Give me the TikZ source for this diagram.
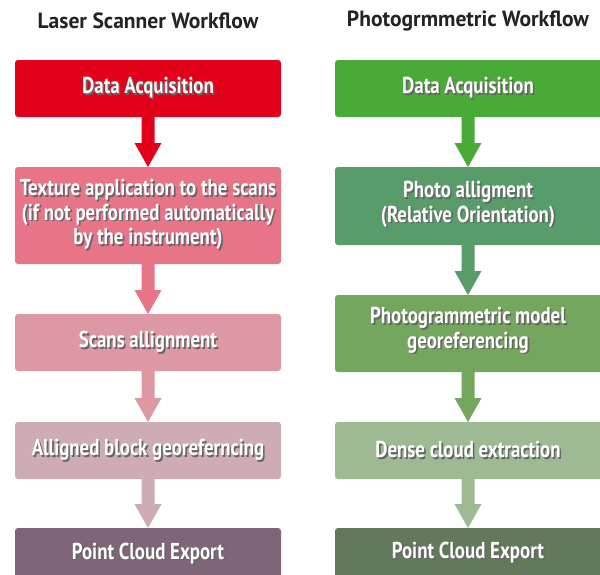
\documentclass[tikz,border=0pt]{standalone}
\usepackage{fontspec}
\usetikzlibrary{calc}
\newfontfamily\boxfont[FakeStretch=0.82]{PT Sans}
\newfontfamily\titlefont[FakeStretch=0.98]{PT Sans}
\definecolor{lA}{RGB}{226,0,26}
\definecolor{lB}{RGB}{232,116,136}
\definecolor{lC}{RGB}{222,152,164}
\definecolor{lD}{RGB}{205,172,180}
\definecolor{lE}{RGB}{126,101,120}
\definecolor{rA}{RGB}{74,170,56}
\definecolor{rB}{RGB}{88,156,106}
\definecolor{rC}{RGB}{116,166,94}
\definecolor{rD}{RGB}{158,186,146}
\definecolor{rE}{RGB}{96,122,90}
\definecolor{ttl}{RGB}{35,35,35}
% drop shadow of the white box texts, as in the reference
\newcommand\shd[1]{\leavevmode\rlap{\raisebox{-1.6pt}{\kern1.6pt\textcolor{black!60}{#1}}}#1}
\tikzset{
  stepbox/.style={rectangle, rounded corners=3pt, inner sep=0pt, outer sep=0pt,
    minimum width=266pt, text=white, align=center,
    font=\boxfont\bfseries\fontsize{23}{24.5}\selectfont},
  ttlnode/.style={inner sep=0pt, text=ttl, font=\titlefont\bfseries\fontsize{22}{24}\selectfont},
}
\newcommand\flowarrow[3]{%
  \fill[#3] ($(#1.south)+(-6.5,0)$) -- ($(#1.south)+(6.5,0)$) -- ($(#2.north)+(6.5,-24)$)
    -- ($(#2.north)+(13.5,-24)$) -- (#2.north) -- ($(#2.north)+(-13.5,-24)$)
    -- ($(#2.north)+(-6.5,-24)$) -- cycle;}
\newcommand\flowarrowc[3]{%
  \fill[#3] ($(#1)+(-6.5,0)$) -- ($(#1)+(6.5,0)$) -- ($(#2)+(6.5,-24)$)
    -- ($(#2)+(13.5,-24)$) -- (#2) -- ($(#2)+(-13.5,-24)$)
    -- ($(#2)+(-6.5,-24)$) -- cycle;}
\begin{document}
\begin{tikzpicture}[x=1pt,y=-1pt]
\useasboundingbox (0,0) rectangle (600,574);
\fill[white] (0,0) rectangle (600,574);
\node[ttlnode] (t1) at (148,21) {Laser Scanner Workflow};
\node[ttlnode] (t2) at (468,21) {Photogrmmetric Workflow};
% left column
\node[stepbox, fill=lA, minimum height=57pt] (l1) at (148,88.5) {\shd{Data Acquisition}};
\node[stepbox, fill=lB, minimum height=97pt] (l2) at (148,215.5) {\shd{Texture application to the scans}\\\shd{(if not performed automatically}\\\shd{by the instrument)}};
\node[stepbox, fill=lC, minimum height=57pt] (l3) at (148,342.5) {\shd{Scans allignment}};
\node[stepbox, fill=lD, minimum height=57pt] (l4) at (148,450.5) {\shd{Alligned block georeferncing}};
\node[stepbox, fill=lE, minimum height=52pt] (l5) at (148,554) {\shd{Point Cloud Export}};
% right column boxes (run past the right edge)
\node[stepbox, fill=rA, minimum height=57pt, minimum width=272pt] (r1) at (471,88.5) {};
\node[stepbox, fill=rB, minimum height=78pt, minimum width=272pt] (r2) at (471,206) {};
\node[stepbox, fill=rC, minimum height=77pt, minimum width=272pt] (r3) at (471,333.5) {};
\node[stepbox, fill=rD, minimum height=57pt, minimum width=272pt] (r4) at (471,450.5) {};
\node[stepbox, fill=rE, minimum height=52pt, minimum width=272pt] (r5) at (471,554) {};
\node[stepbox, minimum width=0pt] (r1t) at (468,88.5) {\shd{Data Acquisition}};
\node[stepbox, minimum width=0pt] (r2t) at (468,205) {\shd{Photo alligment}\\\shd{(Relative Orientation)}};
\node[stepbox, minimum width=0pt] (r3t) at (468,331) {\shd{Photogrammetric model}\\\shd{georeferencing}};
\node[stepbox, minimum width=0pt] (r4t) at (468,450.5) {\shd{Dense cloud extraction}};
\node[stepbox, minimum width=0pt] (r5t) at (468,553) {\shd{Point Cloud Export}};
% arrows left
\flowarrow{l1}{l2}{lA}
\flowarrow{l2}{l3}{lB}
\flowarrow{l3}{l4}{lC}
\flowarrow{l4}{l5}{lD}
% arrows right (centred at 468)
\coordinate (r1s) at (468,117); \coordinate (r2n) at (468,167);
\coordinate (r2s) at (468,245); \coordinate (r3n) at (468,295);
\coordinate (r3s) at (468,372); \coordinate (r4n) at (468,422);
\coordinate (r4s) at (468,479); \coordinate (r5n) at (468,528);
\flowarrowc{r1s}{r2n}{rA}
\flowarrowc{r2s}{r3n}{rB}
\flowarrowc{r3s}{r4n}{rC}
\flowarrowc{r4s}{r5n}{rD}
\end{tikzpicture}
\end{document}
